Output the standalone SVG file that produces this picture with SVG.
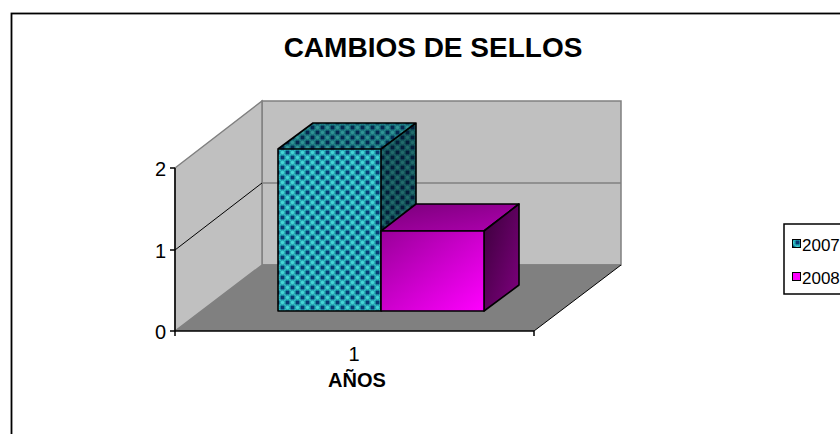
<svg xmlns="http://www.w3.org/2000/svg" width="840" height="434" viewBox="0 0 840 434">
<style>
text{font-family:"Liberation Sans",Arial,sans-serif;fill:#000}
.title{font-size:28px;font-weight:bold}
.lab{font-size:20px}
.leg{font-size:17px}
.bold{font-size:20px;font-weight:bold}
.wall{fill:#C0C0C0;stroke:#808080;stroke-width:1.5}
.edge{stroke:#000;stroke-width:1.5;fill:none}
.bar{stroke:#000;stroke-width:1.6;stroke-linejoin:round}
</style>
<defs>
<pattern id="chk" x="0" y="0" width="10" height="10" patternUnits="userSpaceOnUse">
<rect width="10" height="10" fill="#2DC3C6"/>
<rect x="5.5" y="0.5" width="4" height="4" fill="#073A73"/>
<rect x="0.5" y="5.5" width="4" height="4" fill="#073A73"/>
<circle cx="2.5" cy="2.5" r="2.2" fill="#45D6D6" stroke="#1F93A6" stroke-width="0.8"/>
<circle cx="7.5" cy="7.5" r="2.2" fill="#45D6D6" stroke="#1F93A6" stroke-width="0.8"/>
</pattern>
<linearGradient id="mFront" x1="0" y1="0" x2="1" y2="1">
<stop offset="0" stop-color="#990099"/>
<stop offset="1" stop-color="#FF00FF"/>
</linearGradient>
<linearGradient id="mTop" x1="0" y1="0" x2="1" y2="1">
<stop offset="0" stop-color="#7A007A"/>
<stop offset="1" stop-color="#B000B0"/>
</linearGradient>
<linearGradient id="mSide" x1="0" y1="0" x2="1" y2="1">
<stop offset="0" stop-color="#3A003A"/>
<stop offset="1" stop-color="#800080"/>
</linearGradient>
</defs>
<rect x="11.5" y="13.5" width="840" height="440" fill="#fff" stroke="#000" stroke-width="1.8"/>
<text class="title" x="433" y="57" text-anchor="middle">CAMBIOS DE SELLOS</text>
<g id="plot">
<polygon class="wall" points="262,101 621,101 621,265 262,265"/>
<polygon class="wall" points="175,168 262,101 262,265 175,331"/>
<polygon points="175,331 262,265 621,265 534,331" fill="#808080"/>
<line x1="262" y1="183" x2="621" y2="183" stroke="#808080" stroke-width="1.5"/>
<line x1="175" y1="250" x2="262" y2="183" stroke="#000" stroke-width="1"/>
<line x1="262" y1="265" x2="621" y2="265" stroke="#808080" stroke-width="1.5"/>
<line x1="534" y1="331" x2="621" y2="265" stroke="#000" stroke-width="1"/>
</g>
<g id="axes">
<line class="edge" x1="175" y1="168" x2="175" y2="331"/>
<line class="edge" x1="175" y1="331" x2="534" y2="331"/>
<line class="edge" x1="170" y1="168" x2="175" y2="168"/>
<line class="edge" x1="170" y1="250" x2="175" y2="250"/>
<line class="edge" x1="170" y1="331" x2="175" y2="331"/>
<line class="edge" x1="175" y1="331" x2="175" y2="336"/>
<line class="edge" x1="534" y1="331" x2="534" y2="336"/>
<text class="lab" x="166" y="176" text-anchor="end">2</text>
<text class="lab" x="166" y="258" text-anchor="end">1</text>
<text class="lab" x="166" y="339" text-anchor="end">0</text>
<text class="lab" x="354" y="361" text-anchor="middle">1</text>
<text class="bold" x="357" y="387" text-anchor="middle">AÑOS</text>
</g>
<g id="bar2007">
<polygon points="278,149 313,123 416,123 381,149" fill="url(#chk)"/>
<polygon points="278,149 313,123 416,123 381,149" fill="#000" opacity="0.3"/>
<polygon points="381,149 416,123 416,285 381,311" fill="url(#chk)"/>
<polygon points="381,149 416,123 416,285 381,311" fill="#000" opacity="0.5"/>
<rect x="278" y="149" width="103" height="162" fill="url(#chk)"/>
<path class="bar" fill="none" d="M278,149 L313,123 L416,123 L381,149 Z M381,149 L416,123 L416,285 L381,311 M278,149 H381 V311 H278 Z"/>
</g>
<g id="bar2008">
<polygon class="bar" points="381,231 416,204 519,204 484,231" fill="url(#mTop)"/>
<polygon class="bar" points="484,231 519,204 519,285 484,311" fill="url(#mSide)"/>
<rect class="bar" x="381" y="231" width="103" height="80" fill="url(#mFront)"/>
</g>
<g id="legend">
<rect x="784" y="224" width="70" height="70" fill="#fff" stroke="#000" stroke-width="1.5"/>
<rect x="792.5" y="239.5" width="8" height="8" fill="url(#chk)" stroke="#000"/>
<text class="leg" x="802" y="251">2007</text>
<rect x="792.5" y="272.5" width="8" height="8" fill="#FF00FF" stroke="#000"/>
<text class="leg" x="802" y="284">2008</text>
</g>
</svg>
